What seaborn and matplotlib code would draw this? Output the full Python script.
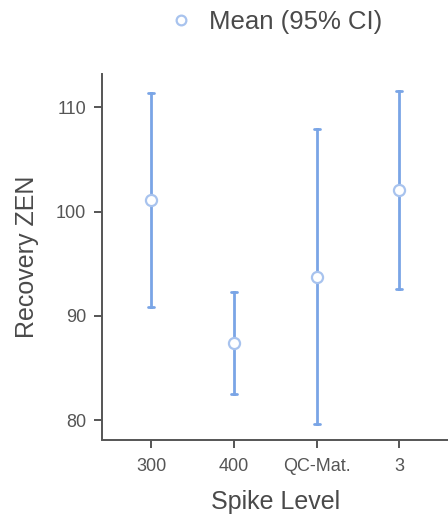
import numpy as np
import pandas as pd
import matplotlib
matplotlib.use("Agg")
import matplotlib.pyplot as plt
from matplotlib.lines import Line2D
import seaborn as sns

# Data
categories = ["300", "400", "QC-Mat.", "3"]
means = [101.1, 87.4, 93.7, 102.1]
ci_lower = [90.9, 82.5, 79.6, 92.6]
ci_upper = [111.4, 92.3, 107.9, 111.6]

sns.set_theme(style="ticks")
plt.rcParams['font.family'] = ['Liberation Sans', 'DejaVu Sans']

line_color = "#7AA5E6"
edge_color = "#A8C3EE"
text_color = "#4a4a4a"
tick_text_color = "#555555"
spine_color = "#555555"

# long-form: lower, mean, upper per category -> median with full range interval
rows = []
for c, lo, m, hi in zip(categories, ci_lower, means, ci_upper):
    for v in (lo, m, hi):
        rows.append({"Spike Level": c, "Recovery ZEN": v})
df = pd.DataFrame(rows)
dfm = pd.DataFrame({"Spike Level": categories, "Recovery ZEN": means})

fig = plt.figure(figsize=(4.48, 5.22), dpi=100)
ax = fig.add_axes([101.5 / 448, 1 - 439.5 / 522, (449 - 101.5) / 448, (439.5 - 74) / 522])

sns.pointplot(data=df, x="Spike Level", y="Recovery ZEN", order=categories,
              estimator="median", errorbar=("pi", 100), linestyle="none",
              marker="", color=line_color, capsize=0.07,
              err_kws={"linewidth": 2.0, "color": line_color}, ax=ax)
sns.pointplot(data=dfm, x="Spike Level", y="Recovery ZEN", order=categories,
              errorbar=None, linestyle="none", marker="o", color=line_color,
              markersize=8, markerfacecolor="white", markeredgecolor=edge_color,
              markeredgewidth=1.6, ax=ax)
for ln in ax.lines:
    ln.set_zorder(3)

ax.set_xlim(-0.6, 3.6)
ax.set_ylim(78.15, 113.2)
ax.set_yticks([80, 90, 100, 110])

ax.set_xlabel("Spike Level", fontsize=18, color=text_color, labelpad=11)
ax.set_ylabel("Recovery ZEN", fontsize=18, color=text_color, labelpad=12)
ax.tick_params(axis="both", labelsize=13, colors=spine_color, labelcolor=tick_text_color,
               length=6, width=1.4, pad=5)
ax.tick_params(axis="x", pad=7)
for s in ["top", "right"]:
    ax.spines[s].set_visible(False)
for s in ["left", "bottom"]:
    ax.spines[s].set_color(spine_color)
    ax.spines[s].set_linewidth(1.4)

handle = Line2D([], [], linestyle="none", marker="o", markersize=7,
                markerfacecolor="white", markeredgecolor=edge_color, markeredgewidth=1.6)
fig.legend([handle], ["Mean (95% CI)"], loc="center", bbox_to_anchor=(275 / 448, 1 - 22 / 522),
           frameon=False, fontsize=18.5, labelcolor=text_color, handletextpad=0.6,
           handlelength=1.0)

fig.savefig("out.png", dpi=100)
